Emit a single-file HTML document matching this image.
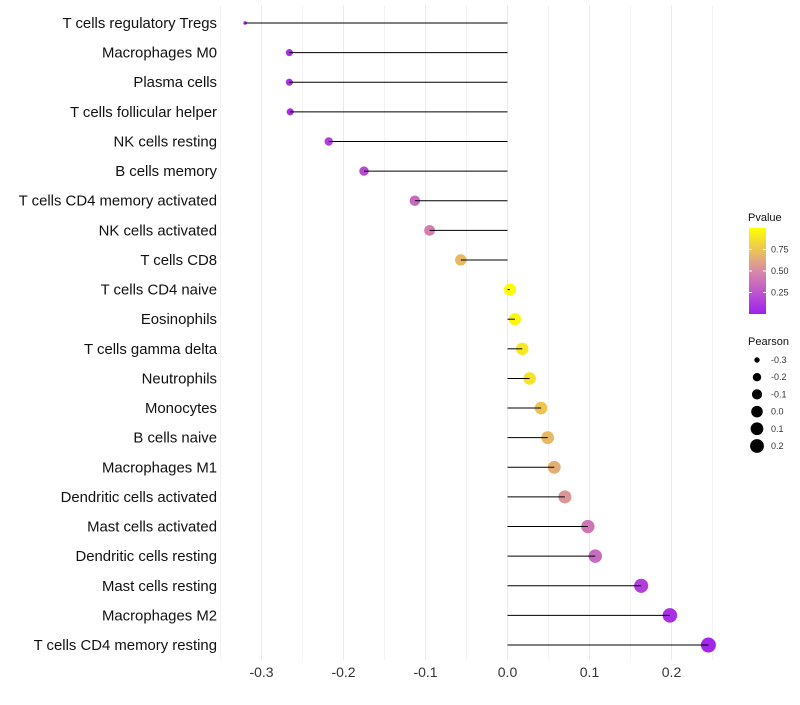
<!DOCTYPE html>
<html><head><meta charset="utf-8"><style>
body{margin:0;background:#fff;font-family:"Liberation Sans",sans-serif}
</style></head><body>
<svg id="chart" width="800" height="700"></svg>
<script>
const categories=["T cells regulatory  Tregs","Macrophages M0","Plasma cells","T cells follicular helper","NK cells resting","B cells memory","T cells CD4 memory activated","NK cells activated","T cells CD8","T cells CD4 naive","Eosinophils","T cells gamma delta","Neutrophils","Monocytes","B cells naive","Macrophages M1","Dendritic cells activated","Mast cells activated","Dendritic cells resting","Mast cells resting","Macrophages M2","T cells CD4 memory resting"];
const pearson=[-0.320,-0.266,-0.266,-0.265,-0.218,-0.175,-0.113,-0.095,-0.057,0.003,0.009,0.018,0.027,0.041,0.049,0.057,0.070,0.098,0.107,0.163,0.198,0.245];
const pvalue=[0.03,0.08,0.08,0.08,0.15,0.2,0.35,0.45,0.7,0.99,0.97,0.9,0.88,0.75,0.7,0.65,0.55,0.4,0.35,0.15,0.07,0.03];
const xTicks=[-0.3,-0.2,-0.1,0.0,0.1,0.2];
const xTickLabels=["-0.3","-0.2","-0.1","0.0","0.1","0.2"];
const sizeLegend=[-0.3,-0.2,-0.1,0.0,0.1,0.2];
const svg=document.getElementById('chart');
const NS='http://www.w3.org/2000/svg';
function mk(t,a,p){const e=document.createElementNS(NS,t);for(const k in a)e.setAttribute(k,a[k]);(p||svg).appendChild(e);return e;}
const x=v=>507.5+v*820;
const y=i=>23+i*29.62;
const r=v=>1.8+5.7*Math.sqrt(Math.max(0,(v+0.32)/0.565));
function lerp(a,b,t){return a.map((c,i)=>Math.round(c+(b[i]-c)*t));}
function col(p){const s0=[160,32,240],s1=[217,138,168],s2=[255,255,0];const c=p<0.5?lerp(s0,s1,p/0.5):lerp(s1,s2,(p-0.5)/0.5);return `rgb(${c.join(',')})`;}
for(let v=-0.35;v<=0.251;v+=0.05){const g=mk('line',{x1:x(v),x2:x(v),y1:5,y2:660,stroke:'#ebebeb','stroke-width':Math.abs(Math.round(v*20))%2===0?1:0.6});

}
xTicks.forEach((v,i)=>{const t=mk('text',{x:x(v),y:677,'text-anchor':'middle','font-size':14,fill:'#333'});t.textContent=xTickLabels[i];

});
categories.forEach((c,i)=>{
 const t=mk('text',{x:217,y:y(i)+5,'text-anchor':'end','font-size':14.9,fill:'#111'});t.textContent=c;
 
 
 const pt=mk('circle',{cx:x(pearson[i]),cy:y(i),r:r(pearson[i]),fill:col(pvalue[i])});
 
 
 const l=mk('line',{x1:x(0),x2:x(pearson[i]),y1:y(i),y2:y(i),stroke:'#000','stroke-width':1});
 
 
});
const defs=mk('defs',{});const lg=mk('linearGradient',{id:'pg',x1:0,y1:1,x2:0,y2:0},defs);
[0,0.25,0.5,0.75,1].forEach(o=>mk('stop',{offset:o,'stop-color':col(o)},lg));
const lt=mk('text',{x:748,y:221,'font-size':11,fill:'#111'});lt.textContent='Pvalue';


const bar=mk('rect',{x:749,y:228,width:17,height:86,fill:'url(#pg)'});


[[0.75,'0.75'],[0.5,'0.50'],[0.25,'0.25']].forEach(([p,s])=>{const yy=314-p*86/1.0;
mk('line',{x1:749,x2:752,y1:yy,y2:yy,stroke:'#fff'});mk('line',{x1:763,x2:766,y1:yy,y2:yy,stroke:'#fff'});
const t=mk('text',{x:771,y:yy+3,'font-size':9,fill:'#333'});t.textContent=s;

});
const st=mk('text',{x:748,y:345,'font-size':11,fill:'#111'});st.textContent='Pearson';


sizeLegend.forEach((v,i)=>{const yy=360+i*17.2;
const c=mk('circle',{cx:757,cy:yy,r:r(v)*0.95,fill:'#000'});


const t=mk('text',{x:771,y:yy+3,'font-size':9,fill:'#333'});t.textContent=sizeLegend[i].toFixed(1);

});
</script>
</body></html>
